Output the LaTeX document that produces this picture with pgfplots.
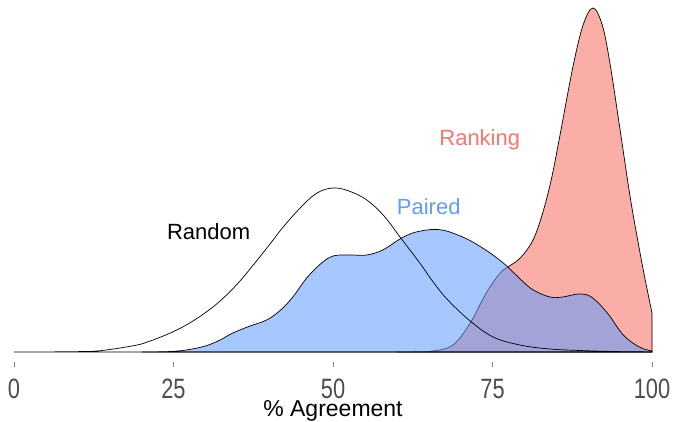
\documentclass[border=0pt]{standalone}
\usepackage{pgfplots}
\pgfplotsset{compat=1.18}
\usepackage{fontspec}
\setmainfont{Liberation Sans}
\definecolor{rankred}{HTML}{F8766D}
\definecolor{pairblue}{HTML}{619CFF}
\definecolor{tickgray}{HTML}{4D4D4D}

\begin{document}
\begin{tikzpicture}
\begin{axis}[
    scale only axis,
    width=638pt, height=344pt,
    xmin=0, xmax=100,
    ymin=0, ymax=344,
    hide y axis,
    axis x line*=bottom,
    x axis line style={draw=none},
    xtick={0,25,50,75,100},
    tick align=outside,
    major tick length=5pt,
    xtick style={draw=tickgray!70, line width=0.7pt, yshift=-10pt},
    xticklabel style={anchor=base, inner sep=0pt, yshift=-41pt, text=tickgray,
        text depth=0pt, font=\fontsize{28}{28}\selectfont},
    xticklabel={\scalebox{0.78}[1]{\pgfmathprintnumber[assume math mode=true]{\tick}}},
    clip=false,
]

% Ranking
\addplot[draw=black, line width=0.7pt, fill=rankred, fill opacity=0.6, smooth, tension=0.6]
    coordinates {
    (60,0)(63,0.2)(65.7,1)(68.8,7)(71.5,29)(74.1,60)(76.2,79)(77.4,85)(79,92)
    (80.5,103)(81.7,117)(83,142)(84.3,175)(85.7,221)(87.6,285)(89.2,327)(90.75,344)
    (92.2,327)(93.4,289)(95,222)(96.6,154)(98.1,100)(99,70)(100,39)
    } \closedcycle;

% Paired
\addplot[draw=black, line width=0.7pt, fill=pairblue, fill opacity=0.56, smooth, tension=0.6]
    coordinates {
    (20,0)(22,0.1)(24.5,0.5)(27,2)(30,6)(32.3,12)(34.3,19)(37,26)(39.6,32)
    (41.8,42)(43.7,55)(46,75)(48.4,90)(50,96)(51.5,97)(53,97)(55.3,97)
    (57.8,102)(60.5,113)(62.5,119)(64.7,122)(66.5,122.5)(68.3,120)(71,113)
    (73.7,103)(75.7,94)(77.4,85)(79.5,72)(81.4,62)(84,55)(86,55)(88.5,58)
    (90.5,55)(93,39)(95.5,17)(98,5)(100,1)
    } \closedcycle;

% Random
\addplot[draw=black, line width=0.7pt, smooth, tension=0.6]
    coordinates {
    (0,0)(5,0.1)(10,0.4)(13,1)(16.6,4)(20,8)(21.8,12)(24.5,19)(27,27)
    (29.7,38)(32.3,51)(35,68)(37.5,87)(40,107)(42.2,125)(45,145)(47.5,159)
    (50,164)(52.5,161)(55.3,152)(58,136)(60.5,115)(63.6,89)(65.7,70)(68,52)
    (71.5,31)(75.1,15)(79.3,7)(84,3)(90,1.2)(95,0.4)(100,0.1)
    } \closedcycle;

\node[text=rankred, font=\fontsize{22}{22}\selectfont] at (axis cs:73,212) {Ranking};
\node[text=pairblue, font=\fontsize{22}{22}\selectfont] at (axis cs:65,145) {Paired};
\node[text=black, font=\fontsize{22}{22}\selectfont] at (axis cs:30.5,120) {Random};
\node[anchor=base, inner sep=0pt, font=\fontsize{23}{23}\selectfont] at (axis cs:50,0) [yshift=-64pt] {\% Agreement};
\end{axis}
\pgfresetboundingbox
\path ([shift={(-14pt,-69pt)}]current axis.south west) rectangle ([shift={(21pt,8pt)}]current axis.north east);
\end{tikzpicture}
\end{document}
